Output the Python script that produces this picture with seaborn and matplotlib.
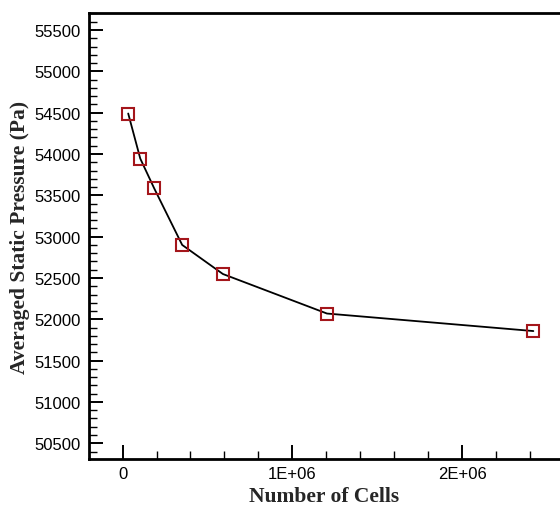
import matplotlib
matplotlib.use("Agg")
import matplotlib.pyplot as plt
import seaborn as sns
import pandas as pd
from matplotlib.ticker import MultipleLocator, FixedLocator

# Grid-independence study: mesh size vs. averaged static pressure
cells = [33000, 104000, 186000, 351000, 591000, 1204000, 2420000]
pressure = [54490, 53945, 53585, 52900, 52548, 52070, 51858]

x_ticks = [0, 1e6, 2e6]
x_tick_labels = ["0", "1E+06", "2E+06"]
y_ticks = [50500, 51000, 51500, 52000, 52500, 53000, 53500, 54000, 54500, 55000, 55500]

df = pd.DataFrame({"cells": cells, "pressure": pressure})

sns.set_style("ticks")
plt.rcParams["font.family"] = ["Liberation Sans", "DejaVu Sans"]

fig = plt.figure(figsize=(5.6, 5.06), dpi=100)
ax = fig.add_axes([89 / 560, 1 - 460 / 506, 1 - 89 / 560, (460 - 14) / 506])

sns.lineplot(data=df, x="cells", y="pressure", ax=ax, color="black", linewidth=1.3,
             marker="s", markersize=9, markerfacecolor="none",
             markeredgecolor="#a4161b", markeredgewidth=1.5, zorder=3)

ax.set_xlim(-0.198e6, 2.577e6)
ax.set_ylim(50310, 55706)

ax.xaxis.set_major_locator(FixedLocator(x_ticks))
ax.set_xticklabels(x_tick_labels)
ax.xaxis.set_minor_locator(MultipleLocator(2e5))
ax.yaxis.set_major_locator(FixedLocator(y_ticks))
ax.set_yticklabels([str(v) for v in y_ticks])
ax.yaxis.set_minor_locator(MultipleLocator(100))

ax.tick_params(which="both", direction="in", top=False, right=False, labelsize=12,
               colors="black")
ax.tick_params(which="major", length=10, width=1.4, pad=5)
ax.tick_params(which="minor", length=6, width=1.0)
ax.tick_params(axis="y", which="major", pad=6)

for side in ["left", "bottom", "top"]:
    ax.spines[side].set_linewidth(2)
    ax.spines[side].set_color("black")
ax.spines["right"].set_visible(False)
ax.spines["top"].set_visible(True)

label_font = {"family": ["Liberation Serif", "DejaVu Serif"], "weight": "bold", "size": 15.5}
ax.set_xlabel("Number of Cells", fontdict=label_font, labelpad=4)
ax.set_ylabel("Averaged Static Pressure (Pa)", fontdict=label_font, labelpad=3)

fig.savefig("out.png", dpi=100, facecolor="white")
